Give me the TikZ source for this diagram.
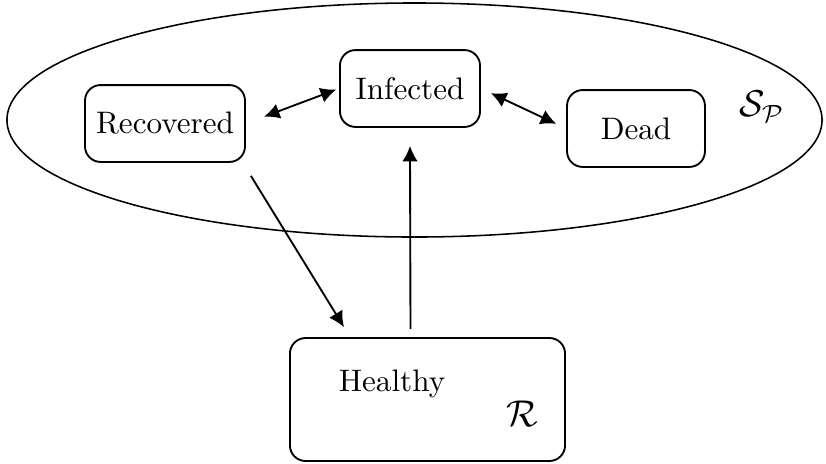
\documentclass[tikz,border=0pt]{standalone}
\usepackage{amsmath}
\usetikzlibrary{shapes.geometric, arrows.meta, calc, positioning}
\tikzstyle{state} = [rectangle, rounded corners=5pt, text centered,
	draw=black, line width=0.6pt, minimum height=24.7pt]
\tikzstyle{arrow} = [-{Latex[length=5pt,width=5pt]}, line width=0.6pt]
\tikzstyle{arrow-d} = [{Latex[length=5pt,width=5pt]}-{Latex[length=5pt,width=5pt]}, line width=0.6pt]

\begin{document}
\begin{tikzpicture}[x=0.3213pt, y=-0.3213pt]
	\useasboundingbox (0,0) rectangle (826,464);

	% set up group of states
	\node (group) [ellipse, draw=black, line width=0.5pt, minimum width=261.9pt, minimum height=75.2pt] at (414.5,120) {};
	\node (SP) at (762,107) {\large $\mathcal{S}_{\mathcal{P}}$};

	% set up nodes
	\node (recovered) [state, minimum width=51.4pt] at (165,123.5) {Recovered};
	\node (infected) [state, minimum width=45pt] at (410,88.5) {Infected};
	\node (dead) [state, minimum width=44.3pt] at (636,128.5) {Dead};
	\node (healthy) [state, minimum width=88.4pt, minimum height=39.5pt] at (427.5,399.5) {};
	\node (healthy-text) at (392,384) {Healthy};
	\node (R) at (522,414) {\large $\mathcal{R}$};

	% set up transitions between nodes
	\draw [arrow-d, shorten <=6.2pt, shorten >=1pt] (recovered.east) -- (infected.west);
	\draw [arrow-d, shorten <=3.5pt, shorten >=3.5pt] (infected.east) -- (dead.west);
	\draw [arrow] ([shift={(5,13)}]recovered.south east) -- ([shift={(55,-10)}]healthy.north west);
	\draw [arrow] ([shift={(-17,-8)}]healthy.north) -- ([shift={(0,18)}]infected.south);

\end{tikzpicture}
\end{document}
